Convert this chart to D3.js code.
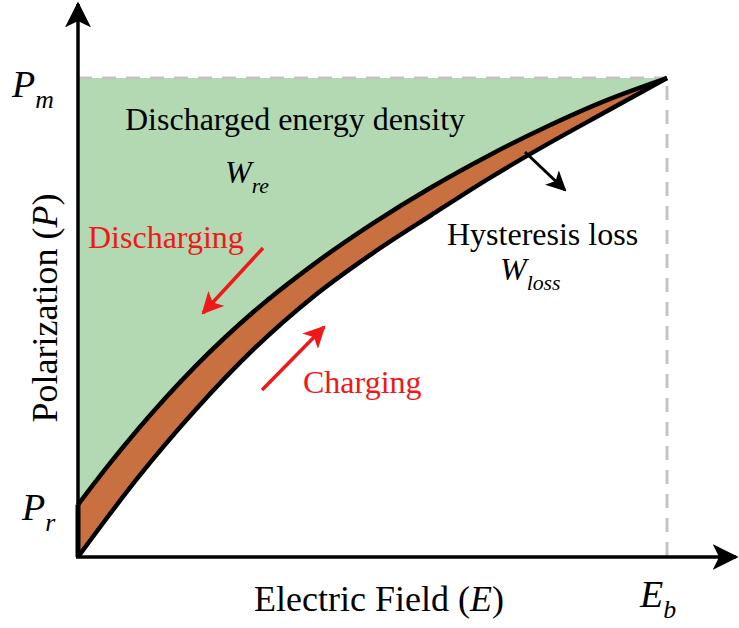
<!DOCTYPE html>
<html>
<head>
<meta charset="utf-8">
<script src="https://cdn.jsdelivr.net/npm/d3@7"></script>
<style>
  body { margin: 0; background: #fff; }
  text { font-family: "Liberation Serif", "Times New Roman", serif; }
</style>
</head>
<body>
<div id="chart"></div>
<script>
// normalised field E/Eb and polarisation P/Pm
const fieldGrid = [0, 0.05, 0.1, 0.2, 0.3, 0.4, 0.5, 0.6, 0.7, 0.8, 0.9, 1];
const chargingP = [0, 0.083, 0.163, 0.308, 0.436, 0.544, 0.634, 0.714, 0.792, 0.864, 0.932, 1];
const dischargingP = [0.109, 0.189, 0.264, 0.399, 0.514, 0.611, 0.696, 0.772, 0.84, 0.901, 0.955, 1];
const remanentP = 0.109;

const W = 739, H = 628;
const margin = { top: 78, right: 72, bottom: 71, left: 78 };

const svg = d3.select("#chart").append("svg")
    .attr("width", W).attr("height", H);

const x = d3.scaleLinear().domain([0, 1]).range([margin.left, W - margin.right]);
const y = d3.scaleLinear().domain([0, 1]).range([H - margin.bottom, margin.top]);

const charge = fieldGrid.map((e, i) => [e, chargingP[i]]);
const discharge = fieldGrid.map((e, i) => [e, dischargingP[i]]);

const line = d3.line().x(d => x(d[0])).y(d => y(d[1])).curve(d3.curveMonotoneX);
const back = pts => line(pts.slice().reverse()).replace(/^M/, "L");

// green: recoverable energy (between P axis and discharge curve)
svg.append("path")
    .attr("d", `M${x(0)},${y(1)}L${x(1)},${y(1)}` + back(discharge) + "Z")
    .attr("fill", "#b3d9b3");

// orange: hysteresis loss (between the two curves)
svg.append("path")
    .attr("d", line(charge) + back(discharge) + "Z")
    .attr("fill", "#c8703f");

// dashed guides at Pm and Eb
svg.append("line")
    .attr("x1", x(0)).attr("x2", x(1)).attr("y1", y(1)).attr("y2", y(1))
    .attr("stroke", "#c3c3c3").attr("stroke-width", 3).attr("stroke-dasharray", "14,10");
svg.append("line")
    .attr("x1", x(1)).attr("x2", x(1)).attr("y1", y(1)).attr("y2", y(0))
    .attr("stroke", "#c3c3c3").attr("stroke-width", 3).attr("stroke-dasharray", "14,10")
    .attr("stroke-dashoffset", -8);

// curves
svg.append("path").attr("d", line(charge))
    .attr("fill", "none").attr("stroke", "#000").attr("stroke-width", 4.5);
svg.append("path").attr("d", line(discharge))
    .attr("fill", "none").attr("stroke", "#000").attr("stroke-width", 4.5);
svg.append("path")
    .attr("d", `M${x(0)},${y(remanentP)}L${x(0)},${y(0)}`)
    .attr("stroke", "#000").attr("stroke-width", 5);

// arrow markers
const defs = svg.append("defs");
function marker(id, color, size) {
    defs.append("marker")
        .attr("id", id).attr("viewBox", "0 0 10 10")
        .attr("refX", 9).attr("refY", 5)
        .attr("markerUnits", "userSpaceOnUse")
        .attr("markerWidth", size).attr("markerHeight", size)
        .attr("orient", "auto")
        .append("path").attr("d", "M0,0L10,5L0,10L2.5,5Z").attr("fill", color);
}
marker("axisHead", "#000", 26);
marker("redHead", "#f01818", 22);
marker("blackHead", "#000", 20);

// axes
svg.append("line")
    .attr("x1", x(0)).attr("y1", y(0)).attr("x2", x(0)).attr("y2", 4)
    .attr("stroke", "#000").attr("stroke-width", 3.5).attr("marker-end", "url(#axisHead)");
svg.append("line")
    .attr("x1", x(0) - 2).attr("y1", y(0)).attr("x2", W - 3).attr("y2", y(0))
    .attr("stroke", "#000").attr("stroke-width", 3.5).attr("marker-end", "url(#axisHead)");

// direction arrows
function arrow(x1, y1, x2, y2, color, head, w) {
    svg.append("line")
        .attr("x1", x1).attr("y1", y1).attr("x2", x2).attr("y2", y2)
        .attr("stroke", color).attr("stroke-width", w).attr("marker-end", `url(#${head})`);
}
arrow(263, 248, 203, 313, "#f01818", "redHead", 3.5);
arrow(262, 390, 324, 327, "#f01818", "redHead", 3.5);
arrow(525, 152, 565, 190, "#000", "blackHead", 3);

// labels
function sub(tx, ty, main, subtxt, size) {
    const t = svg.append("text").attr("x", tx).attr("y", ty)
        .attr("font-size", size).attr("font-style", "italic").attr("fill", "#000");
    t.append("tspan").text(main);
    t.append("tspan").attr("dy", size * 0.3).attr("font-size", size * 0.68).text(subtxt);
    return t;
}
sub(12, 97, "P", "m", 38);
sub(22, 520, "P", "r", 38);
sub(640, 607, "E", "b", 38);
sub(225, 183, "W", "re", 32);
sub(500, 280, "W", "loss", 32);

svg.append("text").attr("x", 125).attr("y", 130).attr("font-size", 32)
    .text("Discharged energy density");
svg.append("text").attr("x", 447).attr("y", 245).attr("font-size", 32)
    .text("Hysteresis loss");
svg.append("text").attr("x", 88).attr("y", 248).attr("font-size", 32).attr("fill", "#f01818")
    .text("Discharging");
svg.append("text").attr("x", 303).attr("y", 393).attr("font-size", 32).attr("fill", "#f01818")
    .text("Charging");

const xl = svg.append("text").attr("x", 379).attr("y", 611).attr("text-anchor", "middle")
    .attr("font-size", 36);
xl.append("tspan").text("Electric Field (");
xl.append("tspan").attr("font-style", "italic").text("E");
xl.append("tspan").text(")");

const yl = svg.append("text").attr("transform", "translate(57,308) rotate(-90)")
    .attr("text-anchor", "middle").attr("font-size", 36);
yl.append("tspan").text("Polarization (");
yl.append("tspan").attr("font-style", "italic").text("P");
yl.append("tspan").text(")");
</script>
</body>
</html>
